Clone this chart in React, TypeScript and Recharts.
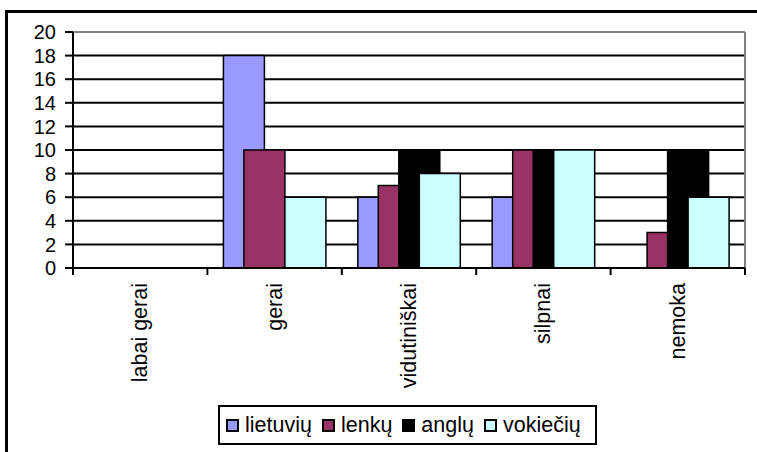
import { BarChart, Bar, XAxis, YAxis, CartesianGrid, Legend } from 'recharts';

const CATEGORIES = ['labai gerai', 'gerai', 'vidutiniškai', 'silpnai', 'nemoka'];
const LIETUVIU = [0, 18, 6, 6, 0];
const LENKU = [0, 10, 7, 10, 3];
const ANGLU = [0, 0, 10, 10, 10];
const VOKIECIU = [0, 6, 8, 10, 6];

const SERIES = [
  { key: 'lietuviu', name: 'lietuvių', color: '#9999FF', values: LIETUVIU },
  { key: 'lenku', name: 'lenkų', color: '#993366', values: LENKU },
  { key: 'anglu', name: 'anglų', color: '#000000', values: ANGLU },
  { key: 'vokieciu', name: 'vokiečių', color: '#CCFFFF', values: VOKIECIU },
];

const Y_TICKS = [0, 2, 4, 6, 8, 10, 12, 14, 16, 18, 20];

const W = 757;
const H = 452;
const MARGIN = { top: 32, right: 12, left: 0, bottom: 0 };
const Y_AXIS_W = 73;
const X_AXIS_H = 184;
const PLOT_W = W - MARGIN.left - MARGIN.right - Y_AXIS_W;
const BAND = PLOT_W / CATEGORIES.length;
const FONT = '"Liberation Sans", Arial, sans-serif';

const data = CATEGORIES.map((name, i) => {
  const row: Record<string, string | number> = { name };
  SERIES.forEach(s => { row[s.key] = s.values[i]; });
  return row;
});

// category label rotated upward, plus tick marks on the band boundaries
const CategoryTick = ({ x, y, payload, index }: any) => {
  const left = x - BAND / 2;
  const ty = y + 15;
  return (
    <g>
      <line x1={left} y1={y} x2={left} y2={y + 7} stroke="#000" strokeWidth={2} />
      {index === CATEGORIES.length - 1 && (
        <line x1={x + BAND / 2} y1={y} x2={x + BAND / 2} y2={y + 7} stroke="#000" strokeWidth={2} />
      )}
      <text
        x={x}
        y={ty}
        transform={`rotate(-90, ${x}, ${ty})`}
        textAnchor="end"
        dominantBaseline="central"
        fontFamily={FONT}
        fontSize={21.5}
        fill="#000"
      >
        {payload.value}
      </text>
    </g>
  );
};

const LegendBox = () => (
  <div
    style={{
      display: 'flex',
      alignItems: 'center',
      boxSizing: 'border-box',
      height: 40,
      border: '2px solid #000',
      background: '#fff',
      padding: '0 14px 0 6px',
      fontFamily: FONT,
      fontSize: 21.5,
      color: '#000',
      whiteSpace: 'nowrap',
    }}
  >
    {SERIES.map((s, i) => (
      <div key={s.key} style={{ display: 'flex', alignItems: 'center', marginLeft: i === 0 ? 0 : 10 }}>
        <div style={{ width: 13, height: 13, boxSizing: 'border-box', border: '2px solid #000', background: s.color, marginRight: 6 }} />
        <span>{s.name}</span>
      </div>
    ))}
  </div>
);

export default function App() {
  return (
    <div style={{ position: 'absolute', left: 0, top: 0, width: W, height: H, overflow: 'hidden', background: '#fff' }}>
      <div
        style={{
          position: 'absolute',
          left: 5,
          top: 10,
          width: W + 40,
          height: H + 40,
          border: '3px solid #000',
        }}
      />
      <div style={{ position: 'absolute', left: 0, top: 0 }}>
        <BarChart width={W} height={H} data={data} margin={MARGIN} barSize={41} barGap={-20.5}>
          <CartesianGrid vertical={false} stroke="#000" strokeWidth={2} />
          <CartesianGrid
            stroke="#808080"
            strokeWidth={2}
            horizontalCoordinatesGenerator={({ offset }: any) => [offset.top]}
            verticalCoordinatesGenerator={({ offset }: any) => [offset.left + offset.width]}
          />
          <XAxis
            dataKey="name"
            interval={0}
            height={X_AXIS_H}
            tickSize={0}
            tickMargin={0}
            tickLine={false}
            axisLine={{ stroke: '#000', strokeWidth: 2 }}
            tick={<CategoryTick />}
          />
          <YAxis
            width={Y_AXIS_W}
            domain={[0, 20]}
            ticks={Y_TICKS}
            interval={0}
            tickSize={8}
            tickMargin={9}
            tickLine={{ stroke: '#000', strokeWidth: 2 }}
            axisLine={{ stroke: '#000', strokeWidth: 2 }}
            tick={{ fill: '#000', fontSize: 20, fontFamily: FONT }}
          />
          <Legend
            layout="horizontal"
            verticalAlign="middle"
            content={<LegendBox />}
            wrapperStyle={{ left: 218, top: 405, width: 'auto', height: 'auto' }}
          />
          {SERIES.map(s => (
            <Bar
              key={s.key}
              dataKey={s.key}
              name={s.name}
              fill={s.color}
              stroke="#000"
              strokeWidth={1.5}
              isAnimationActive={false}
            />
          ))}
        </BarChart>
      </div>
    </div>
  );
}
